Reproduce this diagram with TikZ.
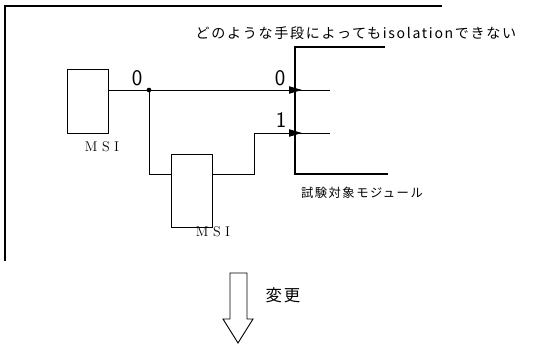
\documentclass[tikz,border=0pt]{standalone}
\usepackage{fontspec}
\newfontfamily\jpfont[LetterSpace=12]{Noto Sans CJK JP}
\usetikzlibrary{arrows.meta,positioning}

\begin{document}
\begin{tikzpicture}[
  x=0.03cm, y=-0.03cm,
  msi/.style={draw, minimum width=1.23cm, inner sep=0pt, line width=0.8pt},
  msilbl/.style={font=\fontsize{12}{14}\selectfont, inner sep=0pt},
  wire/.style={line width=0.8pt},
  pin/.style={-{Triangle[length=0.39cm,width=0.22cm]}, line width=0.8pt},
  bitlbl/.style={font=\sffamily\fontsize{19}{21}\selectfont, inner sep=0pt},
  jplbl/.style={font=\jpfont\fontsize{12}{14}\selectfont, inner sep=0pt}
]
\useasboundingbox (0,0) rectangle (534,347);
% outer frame
\draw[line width=1.4pt] (442,6) -- (5,6) -- (5,261);
\node[jplbl] (title) at (356,33) {どのような手段によってもisolationできない};
% module under test
\draw[line width=1.1pt] (385,47) -- (295,47) -- (295,174) -- (388,174);
\coordinate (tip0) at (302,90);
\coordinate (tip1) at (302,133);
\draw[wire] (295,90) -- (330,90);
\draw[wire] (295,133) -- (330,133);
\node[jplbl, font=\jpfont\fontsize{10.5}{12}\selectfont] (mod) at (362,193) {試験対象モジュール};
% MSI blocks
\node[msi, minimum height=1.92cm] (msiA) at (87.5,101) {};
\node[msilbl] (msiAlbl) at (102,147) {M S I};
\node[msi, minimum height=2.19cm] (msiB) at (191.5,190.5) {};
\node[msilbl] (msiBlbl) at (213,232) {M S I};
% wires
\coordinate (tap) at (149,90);
\coordinate (bend) at (149,174);
\coordinate (jog) at (254,174);
\draw[pin] (msiA.east |- tap) -- (tip0);
\draw[wire] (tap) -- (bend) -- (msiB.west |- bend);
\draw[pin] (msiB.east |- bend) -- (jog) |- (tip1);
\fill (tap) circle (2pt);
\node[bitlbl] (b0a) at (137,78) {0};
\node[bitlbl] (b0b) at (280,78) {0};
\node[bitlbl] (b1) at (281,120) {1};
% change arrow
\draw[line width=0.8pt] (230,273) -- (247,273) -- (247,319) -- (253,319) -- (238,343)
  -- (223,319) -- (230,319) -- cycle;
\node[jplbl, font=\jpfont\fontsize{14}{16}\selectfont] (chg) at (283,295) {変更};
\end{tikzpicture}
\end{document}
